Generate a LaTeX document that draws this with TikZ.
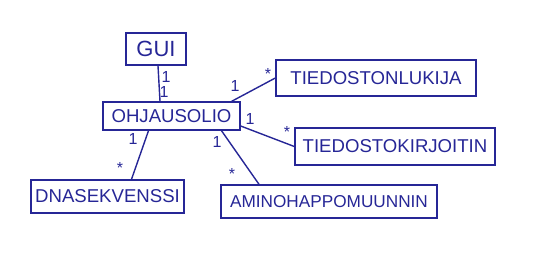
\documentclass[tikz,border=0pt]{standalone}
\usepackage{fontspec}
\setmainfont{Liberation Sans}
\usepackage{tikz}

\definecolor{ink}{RGB}{38,38,150}

\tikzset{
    luokka/.style={draw=ink, text=ink, line width=0.7pt, rectangle, inner sep=0pt, font=\fontsize{9.3}{10}\selectfont},
    lkm/.style={text=ink, inner sep=0pt, font=\fontsize{8}{9}\selectfont},
}

\begin{document}
\begin{tikzpicture}[x=0.5pt,y=-0.5pt, line width=0.7pt]
    \useasboundingbox (0,0) rectangle (547,269);

    % luokat
    \node[luokka, minimum width=30pt, minimum height=16pt, font=\fontsize{11}{12}\selectfont] (gui) at (156,49) {GUI};
    \node[luokka, minimum width=68.5pt, minimum height=14pt] (ohjaus) at (171.5,116) {OHJAUSOLIO};
    \node[luokka, minimum width=100pt, minimum height=18pt] (lukija) at (376,78) {TIEDOSTONLUKIJA};
    \node[luokka, minimum width=100pt, minimum height=18.5pt] (kirjoitin) at (395,146.5) {TIEDOSTOKIRJOITIN};
    \node[luokka, minimum width=76.5pt, minimum height=16.5pt] (dna) at (107.5,196.5) {DNASEKVENSSI};
    \node[luokka, minimum width=108pt, minimum height=16.5pt, font=\fontsize{8.6}{10}\selectfont] (amino) at (329,201.5) {AMINOHAPPOMUUNNIN};

    % yhteydet
    \draw[ink] ([xshift=1pt]gui.south) -- ([xshift=-5.75pt]ohjaus.north);
    \draw[ink] ([xshift=-4.5pt]ohjaus.north east) -- (lukija.west);
    \draw[ink] ([yshift=-5pt]ohjaus.east) -- ([yshift=0pt]kirjoitin.west);
    \draw[ink] ([xshift=-11.5pt]ohjaus.south) -- ([xshift=12pt]dna.north);
    \draw[ink] ([xshift=25pt]ohjaus.south) -- ([xshift=-35pt]amino.north);

    % kertoimet
    \node[lkm] (g1) at (166,77) {1};
    \node[lkm] (g2) at (164,92) {1};
    \node[lkm] (l1) at (235,86) {1};
    \node[lkm] (l2) at (268,74) {*};
    \node[lkm] (k1) at (250,119) {1};
    \node[lkm] (k2) at (287,132) {*};
    \node[lkm] (d1) at (133,139) {1};
    \node[lkm] (d2) at (120,168) {*};
    \node[lkm] (a1) at (217,142) {1};
    \node[lkm] (a2) at (232,174) {*};
\end{tikzpicture}
\end{document}
